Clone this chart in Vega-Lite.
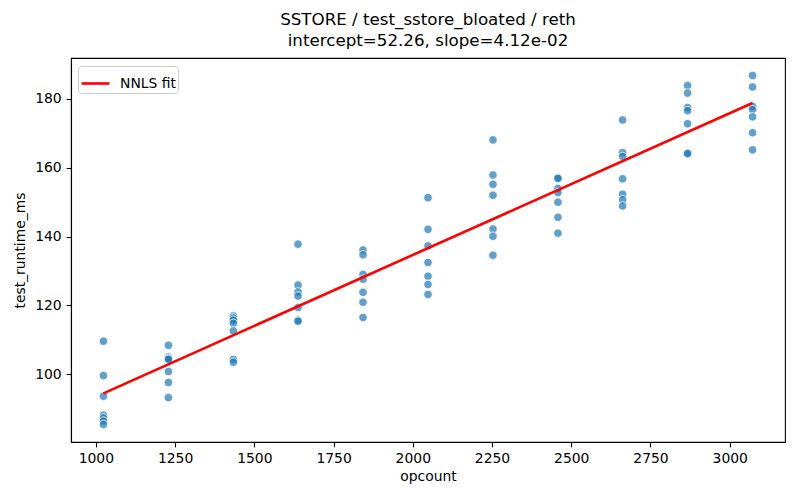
{
  "$schema": "https://vega.github.io/schema/vega-lite/v6.json",
  "autosize": {"type": "none"},
  "padding": {"left": 71, "top": 58, "right": 15, "bottom": 58},
  "width": 714,
  "height": 384,
  "background": "white",
  "title": {
    "text": ["SSTORE / test_sstore_bloated / reth", "intercept=52.26, slope=4.12e-02"],
    "anchor": "middle",
    "font": "DejaVu Sans",
    "fontSize": 16.7,
    "fontWeight": "normal",
    "color": "black",
    "lineHeight": 21,
    "offset": 8
  },
  "config": {
    "view": {"stroke": "black", "strokeWidth": 1.1},
    "axis": {
      "grid": false,
      "domainColor": "black",
      "domainWidth": 1.1,
      "tickColor": "black",
      "tickWidth": 1.1,
      "tickSize": 4.9,
      "labelColor": "black",
      "labelFont": "DejaVu Sans",
      "labelFontSize": 13.9,
      "labelPadding": 4.9,
      "titleColor": "black",
      "titleFont": "DejaVu Sans",
      "titleFontSize": 13.9,
      "titleFontWeight": "normal"
    },
    "legend": {
      "labelFont": "DejaVu Sans",
      "labelFontSize": 13.9,
      "labelColor": "black"
    }
  },
  "datasets": {
    "points": [
      {"opcount": 1024, "test_runtime_ms": 109.6},
      {"opcount": 1024, "test_runtime_ms": 99.6},
      {"opcount": 1024, "test_runtime_ms": 93.6},
      {"opcount": 1024, "test_runtime_ms": 88.1},
      {"opcount": 1024, "test_runtime_ms": 87.3},
      {"opcount": 1024, "test_runtime_ms": 86.4},
      {"opcount": 1024, "test_runtime_ms": 85.4},
      {"opcount": 1229, "test_runtime_ms": 108.4},
      {"opcount": 1229, "test_runtime_ms": 105.0},
      {"opcount": 1229, "test_runtime_ms": 104.6},
      {"opcount": 1229, "test_runtime_ms": 104.3},
      {"opcount": 1229, "test_runtime_ms": 100.8},
      {"opcount": 1229, "test_runtime_ms": 97.6},
      {"opcount": 1229, "test_runtime_ms": 93.2},
      {"opcount": 1434, "test_runtime_ms": 116.9},
      {"opcount": 1434, "test_runtime_ms": 116.3},
      {"opcount": 1434, "test_runtime_ms": 115.7},
      {"opcount": 1434, "test_runtime_ms": 114.8},
      {"opcount": 1434, "test_runtime_ms": 112.6},
      {"opcount": 1434, "test_runtime_ms": 104.3},
      {"opcount": 1434, "test_runtime_ms": 103.5},
      {"opcount": 1638, "test_runtime_ms": 137.8},
      {"opcount": 1638, "test_runtime_ms": 125.9},
      {"opcount": 1638, "test_runtime_ms": 123.9},
      {"opcount": 1638, "test_runtime_ms": 122.7},
      {"opcount": 1638, "test_runtime_ms": 119.4},
      {"opcount": 1638, "test_runtime_ms": 115.7},
      {"opcount": 1638, "test_runtime_ms": 115.4},
      {"opcount": 1843, "test_runtime_ms": 136.1},
      {"opcount": 1843, "test_runtime_ms": 134.7},
      {"opcount": 1843, "test_runtime_ms": 129.0},
      {"opcount": 1843, "test_runtime_ms": 127.6},
      {"opcount": 1843, "test_runtime_ms": 123.8},
      {"opcount": 1843, "test_runtime_ms": 120.9},
      {"opcount": 1843, "test_runtime_ms": 116.5},
      {"opcount": 2048, "test_runtime_ms": 151.3},
      {"opcount": 2048, "test_runtime_ms": 142.1},
      {"opcount": 2048, "test_runtime_ms": 137.3},
      {"opcount": 2048, "test_runtime_ms": 132.5},
      {"opcount": 2048, "test_runtime_ms": 128.5},
      {"opcount": 2048, "test_runtime_ms": 126.1},
      {"opcount": 2048, "test_runtime_ms": 123.2},
      {"opcount": 2253, "test_runtime_ms": 168.1},
      {"opcount": 2253, "test_runtime_ms": 157.9},
      {"opcount": 2253, "test_runtime_ms": 155.2},
      {"opcount": 2253, "test_runtime_ms": 152.0},
      {"opcount": 2253, "test_runtime_ms": 142.2},
      {"opcount": 2253, "test_runtime_ms": 140.1},
      {"opcount": 2253, "test_runtime_ms": 134.6},
      {"opcount": 2458, "test_runtime_ms": 157.1},
      {"opcount": 2458, "test_runtime_ms": 156.9},
      {"opcount": 2458, "test_runtime_ms": 154.0},
      {"opcount": 2458, "test_runtime_ms": 152.8},
      {"opcount": 2458, "test_runtime_ms": 150.0},
      {"opcount": 2458, "test_runtime_ms": 145.6},
      {"opcount": 2458, "test_runtime_ms": 141.0},
      {"opcount": 2662, "test_runtime_ms": 173.9},
      {"opcount": 2662, "test_runtime_ms": 164.4},
      {"opcount": 2662, "test_runtime_ms": 163.3},
      {"opcount": 2662, "test_runtime_ms": 156.8},
      {"opcount": 2662, "test_runtime_ms": 152.3},
      {"opcount": 2662, "test_runtime_ms": 150.7},
      {"opcount": 2662, "test_runtime_ms": 148.9},
      {"opcount": 2867, "test_runtime_ms": 183.9},
      {"opcount": 2867, "test_runtime_ms": 181.7},
      {"opcount": 2867, "test_runtime_ms": 177.5},
      {"opcount": 2867, "test_runtime_ms": 176.6},
      {"opcount": 2867, "test_runtime_ms": 172.8},
      {"opcount": 2867, "test_runtime_ms": 164.3},
      {"opcount": 2867, "test_runtime_ms": 164.1},
      {"opcount": 3072, "test_runtime_ms": 186.8},
      {"opcount": 3072, "test_runtime_ms": 183.5},
      {"opcount": 3072, "test_runtime_ms": 177.8},
      {"opcount": 3072, "test_runtime_ms": 176.9},
      {"opcount": 3072, "test_runtime_ms": 174.8},
      {"opcount": 3072, "test_runtime_ms": 170.2},
      {"opcount": 3072, "test_runtime_ms": 165.2}
    ],
    "fit": [
      {"opcount": 1024, "test_runtime_ms": 94.45, "series": "NNLS fit"},
      {"opcount": 3072, "test_runtime_ms": 178.83, "series": "NNLS fit"}
    ]
  },
  "layer": [
    {
      "data": {"name": "points"},
      "mark": {"type": "point", "shape": "circle", "filled": true, "size": 72, "fill": "#1f77b4", "fillOpacity": 0.7, "stroke": "white", "strokeWidth": 0.8, "strokeOpacity": 1},
      "encoding": {
        "x": {"field": "opcount", "type": "quantitative", "scale": {"domain": [921.6, 3174.4], "nice": false, "zero": false},
              "axis": {"title": "opcount", "format": "d", "values": [1000, 1250, 1500, 1750, 2000, 2250, 2500, 2750, 3000], "titlePadding": 4}},
        "y": {"field": "test_runtime_ms", "type": "quantitative", "scale": {"domain": [80.3, 191.9], "nice": false, "zero": false},
              "axis": {"title": "test_runtime_ms", "values": [100, 120, 140, 160, 180], "titlePadding": 7}}
      }
    },
    {
      "data": {"name": "fit"},
      "mark": {"type": "line", "strokeWidth": 2.6},
      "encoding": {
        "x": {"field": "opcount", "type": "quantitative"},
        "y": {"field": "test_runtime_ms", "type": "quantitative"},
        "color": {"field": "series", "type": "nominal", "scale": {"domain": ["NNLS fit"], "range": ["#ff0000"]},
                  "legend": {"title": null, "orient": "none", "legendX": 7, "legendY": 8, "symbolType": "stroke", "symbolSize": 784, "symbolStrokeWidth": 2.6,
                             "fillColor": "white", "strokeColor": "#cccccc", "padding": 2, "cornerRadius": 3, "labelOffset": 9}}
      }
    }
  ]
}
